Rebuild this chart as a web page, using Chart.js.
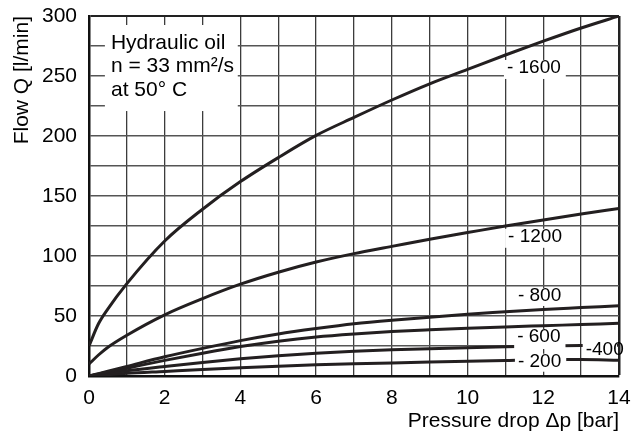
<!DOCTYPE html>
<html>
<head>
<meta charset="utf-8">
<script src="https://cdn.jsdelivr.net/npm/chart.js@4/dist/chart.umd.min.js"></script>
<style>
  html, body { margin: 0; padding: 0; background: #fff; }
  #wrap { width: 632px; height: 436px; }
</style>
</head>
<body>
<div id="wrap"><canvas id="flowChart"></canvas></div>
<script>
// pressure drop [bar]
const pressure = [0, 0.25, 0.5, 1, 2, 3, 4, 5, 6, 7, 8, 9, 10, 11, 12, 13, 14];
// flow Q [l/min] per curve
const q1600 = [25, 43.5, 56, 77, 112.5, 139, 162, 182, 200.5, 215.5, 230, 243.5, 255.5, 267.5, 279, 290, 300];
const q1200 = [10, 17.5, 24, 34, 51, 64.5, 76.5, 86.5, 95, 102, 108, 114, 119.5, 125, 130, 135, 139.7];
const q800 = [0, 2, 4, 8, 16, 23, 29.5, 35, 39.5, 43.5, 46.5, 49, 51.5, 53.5, 55.5, 57, 58.5];
const q600 = [0, 1.6, 3.3, 6.5, 13, 19, 24.5, 29, 32.5, 35, 37, 38.5, 39.8, 40.9, 41.9, 42.9, 43.9];
const q400 = [0, 1.1, 2.2, 4.4, 8, 11.3, 14.3, 16.9, 19, 20.6, 21.8, 22.8, 23.6, 24.3, 24.9, 25.4, 25.8];
const q200 = [0, 0.6, 1.1, 2.2, 3.8, 5.4, 6.9, 8.2, 9.3, 10.2, 10.9, 11.6, 12.3, 13, 13.6, 13.7, 13.2];

const xTicks = [0, 2, 4, 6, 8, 10, 12, 14];
const yTicks = [0, 50, 100, 150, 200, 250, 300];

const curveNames = ["1600", "1200", "800", "600", "400", "200"];
const curves = [q1600, q1200, q800, q600, q400, q200];

const legendLines = ["Hydraulic oil", "n = 33 mm\u00b2/s", "at 50\u00b0 C"];

// label text, placed in data units (x = left edge of text, y = middle)
const curveLabels = [
  { text: "- 1600", x: 11.04, y: 256.7, below: 11 },
  { text: "- 1200", x: 11.07, y: 116, below: 11 },
  { text: "- 800", x: 11.33, y: 66.7, below: 10 },
  { text: "- 600", x: 11.31, y: 32.5, below: 12 },
  { text: "-400", x: 13.12, y: 22.25, below: 7 },
  { text: "- 200", x: 11.33, y: 11.9, below: 10 }
];

const FONT = "'Liberation Sans', Arial, Helvetica, sans-serif";
const INK = "#231f20";

const toPoints = arr => arr.map((v, i) => ({ x: pressure[i], y: v }));

const labelsPlugin = {
  id: "labels",
  afterDatasetsDraw(chart) {
    const ctx = chart.ctx;
    const xs = chart.scales.x, ys = chart.scales.y;
    ctx.save();

    // info box
    const bx1 = xs.getPixelForValue(0.42), bx2 = xs.getPixelForValue(3.93);
    const by1 = ys.getPixelForValue(292.5), by2 = ys.getPixelForValue(220.8);
    ctx.fillStyle = "#fff";
    ctx.fillRect(bx1, by1, bx2 - bx1, by2 - by1);
    ctx.fillStyle = "#000";
    ctx.font = "21px " + FONT;
    ctx.textBaseline = "middle";
    ctx.textAlign = "left";
    legendLines.forEach((t, i) => {
      ctx.fillText(t, xs.getPixelForValue(0.58), by1 + 18 + i * 23.5);
    });

    // curve labels
    ctx.font = "19px " + FONT;
    curveLabels.forEach(l => {
      const px = xs.getPixelForValue(l.x);
      const py = ys.getPixelForValue(l.y);
      const w = ctx.measureText(l.text).width;
      ctx.fillStyle = "#fff";
      ctx.fillRect(px - 3, py - 8, Math.min(w + 8, xs.right - 2 - (px - 3)), 8 + l.below);
      ctx.fillStyle = "#000";
      ctx.fillText(l.text, px, py);
    });
    ctx.restore();
  }
};

document.addEventListener("DOMContentLoaded", function () {
  let ctx = document.getElementById("flowChart").getContext("2d");

  new Chart(ctx, {
    type: "line",
    data: {
      datasets: curves.map((c, i) => ({
        label: curveNames[i],
        data: toPoints(c),
        borderColor: INK,
        borderWidth: 3,
        pointRadius: 0,
        fill: false,
        cubicInterpolationMode: "monotone"
      }))
    },
    options: {
      responsive: true,
      maintainAspectRatio: false,
      animation: false,
      layout: { autoPadding: false, padding: { left: 0, right: 13, top: 16, bottom: 1 } },
      plugins: {
        legend: { display: false },
        tooltip: { enabled: false }
      },
      scales: {
        x: {
          type: "linear",
          min: 0,
          max: 14,
          ticks: {
            stepSize: 1,
            padding: 12,
            color: "#000",
            font: { family: FONT, size: 21, lineHeight: 1 },
            maxRotation: 0,
            autoSkip: false,
            callback: v => (xTicks.includes(v) ? v : "")
          },
          grid: {
            drawTicks: false,
            color: ctx => (ctx.tick && ctx.tick.value === 14 ? "#222" : "#3c3c3c"),
            lineWidth: ctx => (ctx.tick && ctx.tick.value === 14 ? 2.5 : 1.3)
          },
          border: { display: true, color: "#111", width: 2.5 },
          title: {
            display: true,
            text: "Pressure drop \u0394p [bar]",
            align: "end",
            color: "#000",
            font: { family: FONT, size: 21, lineHeight: 1 },
            padding: { top: 2, bottom: 3 }
          },
          afterFit: s => { s.height = 59; s.paddingLeft = 0; s.paddingRight = 0; }
        },
        y: {
          min: 0,
          max: 300,
          ticks: {
            stepSize: 25,
            padding: 12,
            color: "#000",
            font: { family: FONT, size: 21, lineHeight: 1 },
            autoSkip: false,
            callback: v => (yTicks.includes(v) ? v : "")
          },
          grid: {
            drawTicks: false,
            color: ctx => (ctx.tick && ctx.tick.value === 300 ? "#222" : "#555"),
            lineWidth: ctx => (ctx.tick && ctx.tick.value === 300 ? 2 : 1.6)
          },
          border: { display: true, color: "#111", width: 2.5 },
          title: {
            display: true,
            text: "Flow Q [l/min]",
            align: "end",
            color: "#000",
            font: { family: FONT, size: 21, lineHeight: 1 },
            padding: { top: 11.5, bottom: 0 }
          },
          afterFit: s => { s.width = 89; s.paddingTop = 0; s.paddingBottom = 0; }
        }
      }
    },
    plugins: [labelsPlugin]
  });
});
</script>
</body>
</html>
